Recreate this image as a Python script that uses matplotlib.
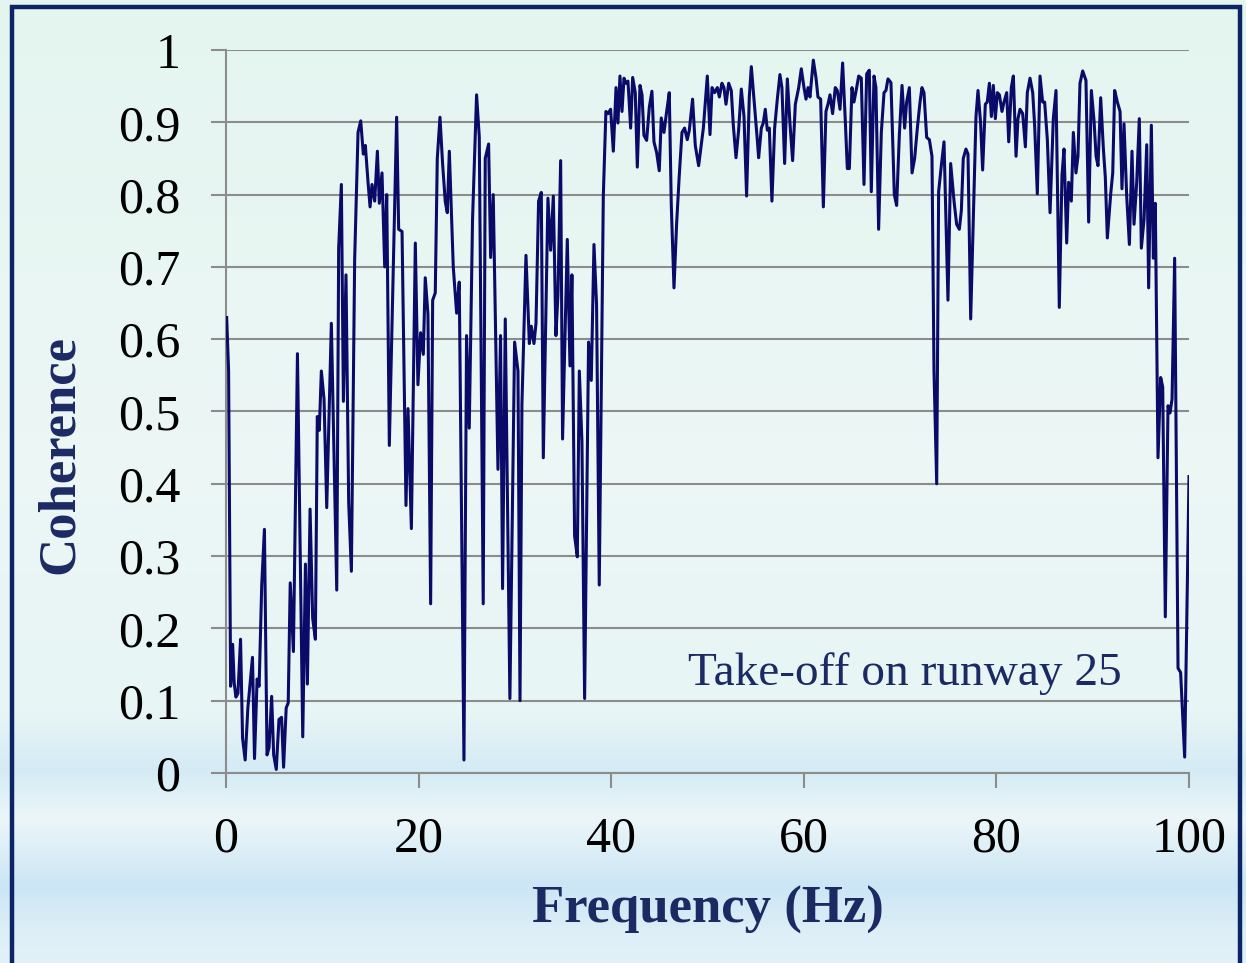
import numpy as np
import matplotlib
matplotlib.use("Agg")
import matplotlib.pyplot as plt
from matplotlib.patches import Rectangle
from matplotlib.ticker import FuncFormatter

plt.rcParams['font.family'] = ['Liberation Serif', 'DejaVu Serif']

# frequency (Hz) / coherence
freq = [0.07, 0.27, 0.48, 0.69, 0.85, 1.03, 1.24, 1.51, 1.72, 1.99, 2.27, 2.75, 2.96, 3.23, 3.44,
        3.71, 3.99, 4.26, 4.47, 4.74, 4.95, 5.22, 5.5, 5.77, 5.98, 6.25, 6.46, 6.67, 7.0, 7.42,
        7.97, 8.25, 8.45, 8.73, 9.0, 9.28, 9.48, 9.69, 9.9,
        10.18, 10.46, 10.94, 11.5, 11.7, 11.98, 12.19, 12.46, 12.74, 13.02, 13.36, 13.71, 13.99,
        14.26, 14.47, 14.75, 14.96, 15.16, 15.44, 15.72, 15.92, 16.2, 16.48, 16.69, 16.96, 17.72,
        17.93, 18.28, 18.69, 18.9, 19.25, 19.66,
        19.93, 20.21, 20.49, 20.69, 20.97, 21.25, 21.46, 21.73, 21.94, 22.22, 22.49, 22.77, 22.98,
        23.19, 23.6, 23.95, 24.22, 24.71, 24.98, 25.26, 25.6, 26.02, 26.3, 26.71, 26.92, 27.27,
        27.48, 27.75, 28.24, 28.51, 28.72, 29.0, 29.48,
        29.97, 30.32, 30.53, 30.73, 31.15, 31.5, 31.7, 31.98, 32.19, 32.46, 32.74, 32.95, 33.43,
        33.71, 33.99, 34.26, 34.47, 34.75, 34.95, 35.44, 35.72, 35.92, 36.2, 36.48, 36.69, 36.96,
        37.24, 37.65, 37.93, 38.21, 38.48, 38.76, 39.18, 39.45,
        39.67, 39.94, 40.22, 40.5, 40.7, 40.91, 41.12, 41.33, 41.53, 41.74, 42.02, 42.23, 42.5,
        42.71, 42.99, 43.2, 43.4, 43.68, 43.96, 44.23, 44.44, 44.72, 44.99, 45.2, 45.48, 45.76,
        46.03, 46.24, 46.52, 46.79, 47.07, 47.35, 47.62, 47.9, 48.11, 48.45, 48.73, 49.08,
        49.57, 49.98, 50.26, 50.47, 50.74, 51.02, 51.23, 51.5, 51.71, 51.92, 52.2, 52.47, 52.68,
        52.96, 53.23, 53.51, 53.79, 54.06, 54.34, 54.55, 54.83, 55.17, 55.31, 55.59, 55.79, 56.0,
        56.21, 56.42, 56.69, 56.97, 57.25, 57.52, 57.73, 58.01, 58.29, 58.56, 58.84, 59.12,
        59.47, 59.74, 60.02, 60.23, 60.44, 60.64, 60.99, 61.27, 61.47, 61.75, 62.03, 62.3, 62.51,
        62.72, 62.99, 63.27, 63.48, 63.76, 64.03, 64.31, 64.52, 64.73, 65.0, 65.21, 65.49, 65.7,
        65.97, 66.25, 66.53, 66.8, 67.01, 67.29, 67.49, 67.77, 68.05, 68.33, 68.53, 68.74, 69.05,
        69.4, 69.64,
        69.92, 70.2, 70.47, 70.68, 70.96, 71.24, 71.51, 71.79, 72.07, 72.27, 72.48, 72.76, 73.04,
        73.31, 73.52, 73.8, 74.0, 74.28, 74.56, 74.97, 75.25, 75.6, 75.87, 76.15, 76.36, 76.56,
        76.84, 77.05, 77.33, 77.6, 77.88, 78.09, 78.36, 78.57, 78.85, 79.05, 79.27,
        79.48, 79.68, 79.89, 80.1, 80.31, 80.58, 80.79, 81.07, 81.28, 81.55, 81.76, 82.04, 82.24,
        82.45, 82.73, 83.01, 83.21, 83.49, 83.77, 83.97, 84.25, 84.53, 84.8, 85.01, 85.29, 85.57,
        85.91, 86.19, 86.53, 86.81, 87.02, 87.3, 87.5, 87.78, 87.99, 88.26, 88.47, 88.68, 88.96,
        89.3,
        89.58, 89.86, 90.14, 90.35, 90.55, 90.83, 91.11, 91.31, 91.52, 91.87, 92.08, 92.28, 92.56,
        92.84, 93.04, 93.25, 93.53, 93.81, 94.08, 94.29, 94.57, 94.84, 95.05, 95.33, 95.61, 95.81,
        96.09, 96.3, 96.5, 96.78, 97.06, 97.27, 97.54, 97.82, 98.03, 98.24, 98.51, 98.86, 99.13,
        99.55, 100.0]

coherence = [0.63, 0.556, 0.12, 0.178, 0.125, 0.105, 0.11, 0.185, 0.048, 0.018, 0.09, 0.16, 0.02, 0.13, 0.12,
             0.26, 0.337, 0.025, 0.035, 0.106, 0.025, 0.005, 0.074, 0.077, 0.008, 0.09, 0.097, 0.263, 0.168, 0.58,
             0.05, 0.289, 0.123, 0.365, 0.214, 0.185, 0.493, 0.474, 0.556,
             0.517, 0.367, 0.622, 0.253, 0.726, 0.814, 0.514, 0.689, 0.374, 0.279, 0.71, 0.886, 0.902,
             0.856, 0.868, 0.817, 0.783, 0.814, 0.791, 0.86, 0.788, 0.83, 0.70, 0.80, 0.453, 0.907,
             0.752, 0.749, 0.37, 0.504, 0.338, 0.733,
             0.537, 0.609, 0.579, 0.685, 0.635, 0.234, 0.654, 0.664, 0.85, 0.907, 0.843, 0.79, 0.775,
             0.86, 0.70, 0.636, 0.679, 0.018, 0.605, 0.477, 0.765, 0.938, 0.88, 0.234, 0.85, 0.87,
             0.713, 0.80, 0.42, 0.605, 0.255, 0.628, 0.103,
             0.596, 0.556, 0.10, 0.51, 0.716, 0.594, 0.618, 0.594, 0.622, 0.791, 0.803, 0.436, 0.795,
             0.723, 0.798, 0.605, 0.661, 0.847, 0.462, 0.738, 0.563, 0.689, 0.328, 0.299, 0.556, 0.459,
             0.103, 0.596, 0.543, 0.731, 0.648, 0.26, 0.798, 0.915,
             0.912, 0.918, 0.86, 0.948, 0.899, 0.964, 0.915, 0.961, 0.954, 0.957, 0.892, 0.962, 0.941,
             0.838, 0.951, 0.938, 0.882, 0.875, 0.921, 0.943, 0.873, 0.858, 0.833, 0.906, 0.886, 0.915,
             0.941, 0.785, 0.671, 0.759, 0.827, 0.886, 0.892, 0.876, 0.889, 0.932, 0.868, 0.84,
             0.892, 0.964, 0.883, 0.948, 0.941, 0.948, 0.935, 0.954, 0.948, 0.925, 0.954, 0.944, 0.896,
             0.851, 0.889, 0.946, 0.908, 0.798, 0.935, 0.977, 0.932, 0.876, 0.851, 0.892, 0.899, 0.918,
             0.889, 0.892, 0.791, 0.892, 0.932, 0.966, 0.948, 0.843, 0.96, 0.899, 0.847, 0.925,
             0.948, 0.974, 0.948, 0.932, 0.948, 0.935, 0.986, 0.961, 0.935, 0.932, 0.783, 0.915, 0.925,
             0.938, 0.912, 0.948, 0.944, 0.918, 0.982, 0.902, 0.836, 0.836, 0.948, 0.928, 0.948, 0.964,
             0.961, 0.814, 0.967, 0.972, 0.804, 0.964, 0.948, 0.752, 0.886, 0.941, 0.944, 0.96, 0.955,
             0.80, 0.785,
             0.882, 0.951, 0.892, 0.928, 0.948, 0.83, 0.85, 0.892, 0.928, 0.948, 0.941, 0.879, 0.876,
             0.853, 0.556, 0.40, 0.804, 0.84, 0.873, 0.654, 0.843, 0.791, 0.759, 0.752, 0.778, 0.85,
             0.863, 0.856, 0.628, 0.765, 0.908, 0.944, 0.899, 0.834, 0.925, 0.928, 0.954,
             0.908, 0.951, 0.905, 0.941, 0.938, 0.915, 0.928, 0.941, 0.873, 0.948, 0.964, 0.853, 0.905,
             0.918, 0.912, 0.866, 0.941, 0.961, 0.941, 0.896, 0.801, 0.964, 0.928, 0.928, 0.876, 0.775,
             0.905, 0.944, 0.644, 0.827, 0.863, 0.733, 0.817, 0.791, 0.886, 0.83, 0.853, 0.954, 0.971,
             0.958,
             0.762, 0.944, 0.902, 0.853, 0.84, 0.934, 0.863, 0.824, 0.74, 0.801, 0.83, 0.944, 0.928,
             0.915, 0.808, 0.898, 0.798, 0.731, 0.86, 0.759, 0.817, 0.905, 0.726, 0.765, 0.869, 0.671,
             0.896, 0.712, 0.788, 0.436, 0.547, 0.534, 0.216, 0.508, 0.498, 0.517, 0.712, 0.145, 0.139,
             0.022, 0.41]

xticks = [0, 20, 40, 60, 80, 100]
yticks = [0, 0.1, 0.2, 0.3, 0.4, 0.5, 0.6, 0.7, 0.8, 0.9, 1.0]
note = "Take-off on runway 25"

navy = '#1b2a63'
grid_grey = '#8c8c8c'

W, H = 1246, 963
fig = plt.figure(figsize=(W / 100, H / 100), dpi=100)

# slide-like background: pale mint with soft light blue bands near the bottom
bg = fig.add_axes([0, 0, 1, 1], zorder=-10)
stop_pos = [0.0, 0.45, 0.74, 0.80, 0.85, 0.88, 0.92, 0.97, 1.0]
stop_col = np.array([[228, 245, 240], [236, 247, 245], [232, 245, 246], [212, 235, 245],
                     [236, 246, 249], [222, 239, 247], [204, 230, 245], [222, 239, 247],
                     [226, 241, 247]]) / 255.0
rows = np.linspace(0, 1, H)
grad = np.stack([np.interp(rows, stop_pos, stop_col[:, k]) for k in range(3)], axis=-1)
bg.imshow(grad[:, None, :], aspect='auto', extent=[0, 1, 0, 1])
bg.set_xlim(0, 1)
bg.set_ylim(0, 1)
bg.axis('off')

# dark frame of the slide
fig.patches.append(Rectangle((12 / W, -0.05), (1240 - 12) / W, 1.05 - 7 / H,
                             transform=fig.transFigure, fill=False,
                             edgecolor='#0b2566', linewidth=3.2, zorder=-5))

ax = fig.add_axes([226 / W, 1 - 773 / H, (1189 - 226) / W, (773 - 50) / H])
ax.set_facecolor('none')
ax.plot(freq, coherence, color='#0a0a68', lw=2.2, zorder=3)

ax.set_xlim(0, 100)
ax.set_ylim(0, 1)
ax.set_xticks(xticks)
ax.set_yticks(yticks)
ax.yaxis.set_major_formatter(FuncFormatter(lambda v, p: '%g' % v))
ax.yaxis.grid(True, color=grid_grey, lw=1.5)
ax.set_axisbelow(True)
for s in ['top', 'right']:
    ax.spines[s].set_visible(False)
for s in ['left', 'bottom']:
    ax.spines[s].set_color(grid_grey)
    ax.spines[s].set_linewidth(1.5)
ax.tick_params(axis='both', direction='out', length=11, width=1.5, color=grid_grey,
               labelsize=36, labelcolor='black')
ax.tick_params(axis='y', pad=22)
ax.tick_params(axis='x', pad=20)

ax.set_xlabel('Frequency (Hz)', fontsize=38, fontweight='bold', color=navy)
ax.xaxis.label.set_va('center')
ax.xaxis.set_label_coords(0.5, -0.19)
ax.set_ylabel('Coherence', fontsize=38, fontweight='bold', color=navy)
ax.yaxis.label.set_va('center')
ax.yaxis.set_label_coords(-0.172, 0.44)

ax.text(70.5, 0.137, note, fontsize=34, color=navy, ha='center', va='center')

fig.savefig('out.png', dpi=100)
